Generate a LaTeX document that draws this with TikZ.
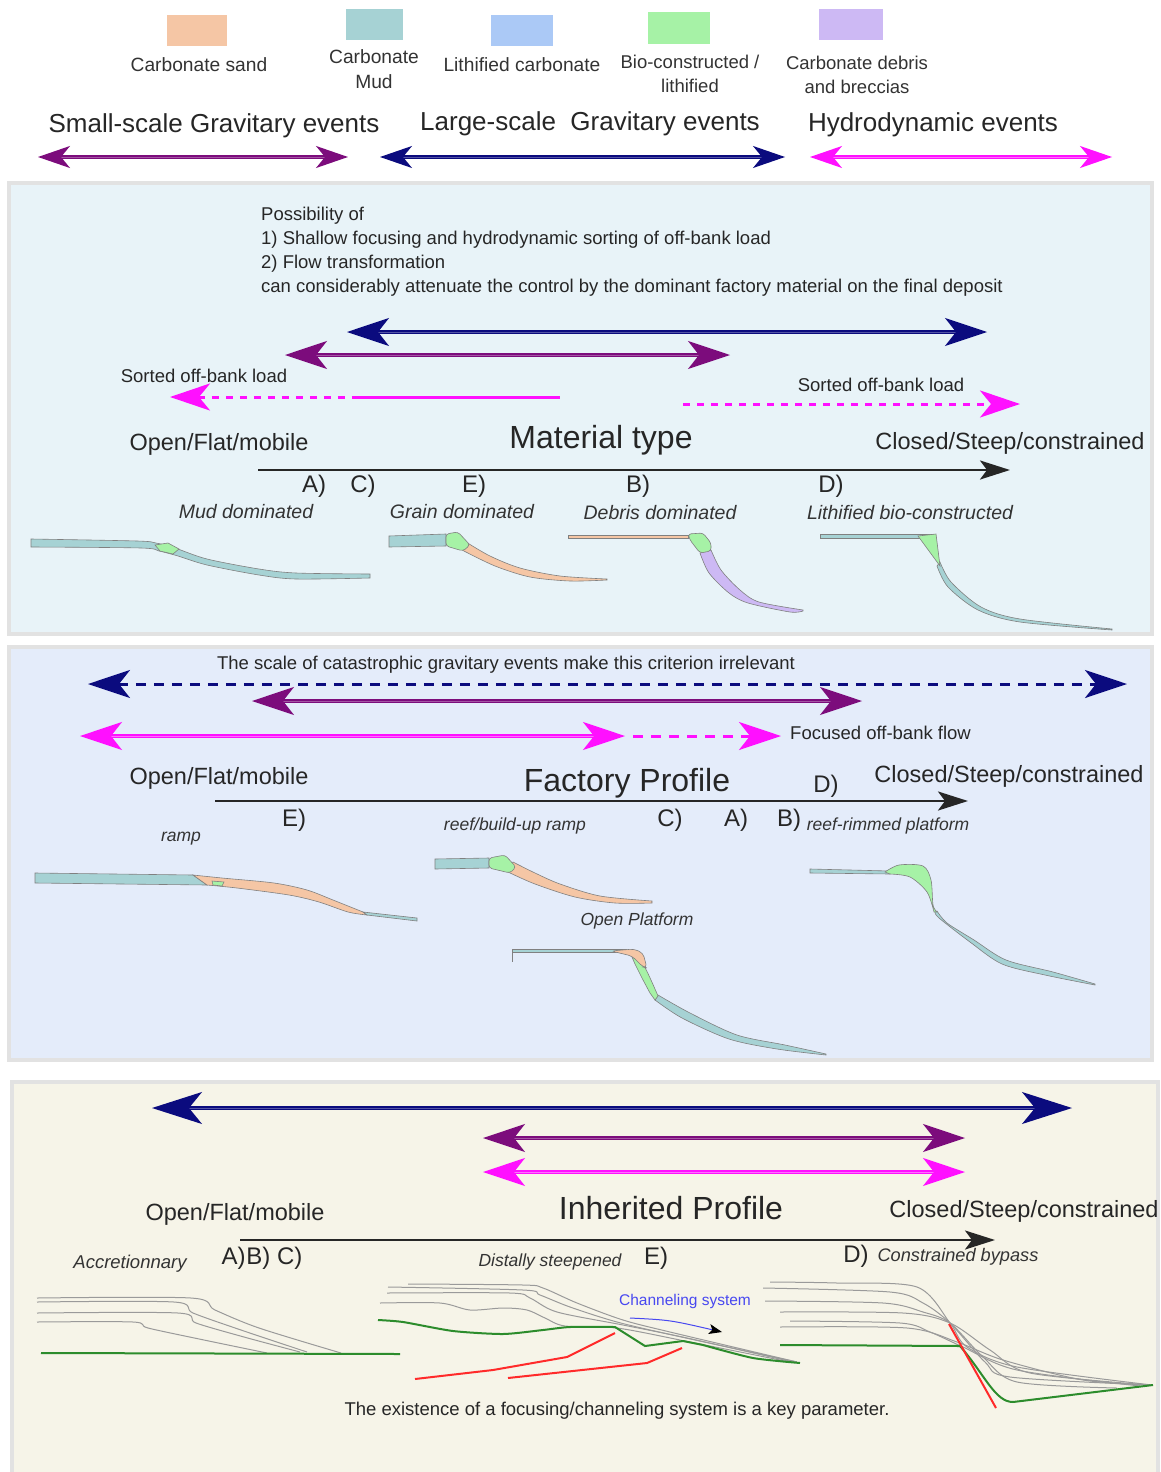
\documentclass[tikz,border=0pt]{standalone}
\usepackage{fontspec}
\setmainfont{Liberation Sans}
\usepackage{xcolor}
\usetikzlibrary{arrows.meta, positioning}

\definecolor{sandc}{HTML}{F5C6A5}
\definecolor{mudc}{HTML}{A6D2D4}
\definecolor{lithc}{HTML}{ABC9F6}
\definecolor{bioc}{HTML}{A6F2A6}
\definecolor{debrisc}{HTML}{CDB9F4}
\definecolor{navyc}{HTML}{0B0B7E}
\definecolor{purpc}{HTML}{7C0C7C}
\definecolor{magc}{HTML}{FF10FF}
\definecolor{bgone}{HTML}{E8F3F8}
\definecolor{bgtwo}{HTML}{E4ECFA}
\definecolor{bgthree}{HTML}{F6F4E8}
\definecolor{framec}{HTML}{E2E2E2}
\definecolor{layerc}{HTML}{9A9A9A}
\definecolor{greenl}{HTML}{2C8C2C}
\definecolor{redl}{HTML}{FF2A2A}
\definecolor{chanc}{HTML}{4848F0}

\tikzset{
  legtip/.tip={Stealth[length=32pt,width=22pt,inset=9pt]},
  bigtip/.tip={Stealth[length=42pt,width=28pt,inset=11pt]},
  axtip/.tip={Stealth[length=30pt,width=19pt,inset=7pt]},
}

\begin{document}
\begin{tikzpicture}[x=1pt,y=-1pt,
    panel/.style={draw=framec,line width=4pt},
    legbox/.style={minimum width=60pt,minimum height=31pt,inner sep=0pt},
    lbl/.style={inner sep=0pt,font=\fontsize{19.2}{25}\selectfont,align=center,text=black!80},
    small/.style={inner sep=0pt,font=\fontsize{18.5}{24}\selectfont,text=black!85},
    head/.style={inner sep=0pt,font=\fontsize{26}{30}\selectfont,text=black!85},
    big/.style={inner sep=0pt,font=\fontsize{32}{36}\selectfont,text=black!85},
    side/.style={inner sep=0pt,font=\fontsize{23.5}{28}\selectfont,text=black!85},
    casetag/.style={inner sep=0pt,font=\fontsize{24}{28}\selectfont,text=black!85},
    ital/.style={inner sep=0pt,font=\fontsize{17.5}{20}\selectfont\itshape,text=black!80},
    legrng/.style={line width=1.3pt,double distance=0.7pt,legtip-legtip},
    rng/.style={line width=1.4pt,double distance=0.8pt,bigtip-bigtip},
    axis/.style={line width=2.6pt,black!85,-axtip},
    mudfill/.style={fill=mudc,draw=gray,line width=0.6pt},
    sandfill/.style={fill=sandc,draw=gray,line width=0.6pt},
    biofill/.style={fill=bioc,draw=gray,line width=0.6pt},
    debrisfill/.style={fill=debrisc,draw=gray,line width=0.6pt},
    layer/.style={draw=layerc,line width=1pt},
    base/.style={draw=greenl,line width=2pt},
    fault/.style={draw=redl,line width=2pt},
  ]
  \useasboundingbox (0,0) rectangle (1160,1472);
  \fill[white] (0,0) rectangle (1160,1472);

  % legend
  \node[legbox,fill=sandc] (sandbox) at (197,31) {};
  \node[legbox,fill=mudc,minimum width=57pt] (mudbox) at (374,25) {};
  \node[legbox,fill=lithc,minimum width=62pt] (lithbox) at (522,31) {};
  \node[legbox,fill=bioc,minimum width=62pt,minimum height=32pt] (biobox) at (679,28) {};
  \node[legbox,fill=debrisc,minimum width=64pt] (debrisbox) at (851,25) {};
  \node[lbl] (sandlbl) at (199,65) {Carbonate sand};
  \node[lbl] (mudlbl) at (374,69) {Carbonate\\Mud};
  \node[lbl] (lithlbl) at (522,65) {Lithified carbonate};
  \node[lbl,font=\fontsize{18.5}{24}\selectfont] (biolbl) at (690,74) {Bio-constructed /\\lithified};
  \node[lbl,font=\fontsize{18.5}{24}\selectfont] (debrislbl) at (857,75) {Carbonate debris\\and breccias};

  \node[head] (smallhd) at (214,126) {Small-scale Gravitary events};
  \node[head] (largehd) at (590,124) {Large-scale~ Gravitary events};
  \node[head] (hydrohd) at (933,125) {Hydrodynamic events};
  \coordinate (sgl) at (38,157);  \coordinate (sgr) at (348,157);
  \coordinate (lgl) at (380,157); \coordinate (lgr) at (785,157);
  \coordinate (hdl) at (810,157); \coordinate (hdr) at (1112,157);
  \draw[legrng,draw=purpc,double=purpc!70!white] (sgl) -- (sgr);
  \draw[legrng,draw=navyc,double=navyc!70!white] (lgl) -- (lgr);
  \draw[legrng,draw=magc,double=magc!60!white] (hdl) -- (hdr);

  % material type
  \draw[panel,fill=bgone] (9,183) rectangle (1152,634);
  \node[small,anchor=west,align=left] (posstxt) at (261,252) {Possibility of\\1) Shallow focusing and hydrodynamic sorting of off-bank load\\2) Flow transformation\\can considerably attenuate the control by the dominant factory material on the final deposit};
  \coordinate (nal) at (347,332); \coordinate (nar) at (987,332);
  \coordinate (pal) at (285,355); \coordinate (par) at (730,355);
  \draw[rng,draw=navyc,double=navyc!70!white] (nal) -- (nar);
  \draw[rng,draw=purpc,double=purpc!70!white] (pal) -- (par);
  \node[small] (sortl) at (204,376) {Sorted off-bank load};
  \node[small] (sortr) at (881,385) {Sorted off-bank load};
  \coordinate (mal) at (170,397); \coordinate (mam) at (352,397); \coordinate (mar) at (560,397);
  \draw[magc,line width=3pt,dash pattern=on 7pt off 7pt,{Stealth[length=40pt,width=27pt,inset=11pt]}-] (mal) -- (mam);
  \draw[magc,line width=3pt] (mam) -- (mar);
  \coordinate (mbl) at (683,404); \coordinate (mbr) at (1020,404);
  \draw[magc,line width=3pt,dash pattern=on 7pt off 7pt,-{Stealth[length=40pt,width=27pt,inset=11pt]}] (mbl) -- (mbr);

  \node[side] (open1) at (219,444) {Open/Flat/mobile};
  \node[big] (mattype) at (601,440) {Material type};
  \node[side] (closed1) at (1010,443) {Closed/Steep/constrained};
  \coordinate (ax1l) at (258,470); \coordinate (ax1r) at (1010,470);
  \draw[axis] (ax1l) -- (ax1r);
  \node[casetag] (a1) at (314,486) {A)};
  \node[casetag] (c1) at (363,486) {C)};
  \node[casetag] (e1) at (474,486) {E)};
  \node[casetag] (b1) at (638,486) {B)};
  \node[casetag] (d1) at (831,486) {D)};
  \node[ital,font=\fontsize{19.5}{22}\selectfont\itshape] (mudtxt) at (246,512) {Mud dominated};
  \node[ital,font=\fontsize{19.5}{22}\selectfont\itshape] (graintxt) at (462,512) {Grain dominated};
  \node[ital,font=\fontsize{19.5}{22}\selectfont\itshape] (debristxt) at (660,513) {Debris dominated};
  \node[ital,font=\fontsize{19.5}{22}\selectfont\itshape] (lithtxt) at (910,513) {Lithified bio-constructed};

  \draw[mudfill] plot[smooth] coordinates {(31,539) (137,541) (156,543) (175,548) (207,559) (259,569) (296,573) (370,574)}
    -- plot[smooth] coordinates {(370,578) (296,579) (259,575) (207,565) (178,556) (159,551) (141,548) (31,547)} -- cycle;
  \draw[biofill] (155,545) -- (168,543) -- (179,549) -- (173,554) -- (160,551) -- cycle;
  \draw[mudfill] (389,536) -- (446,534) -- (446,546) -- (389,547) -- cycle;
  \draw[sandfill] plot[smooth] coordinates {(466,542) (490,556) (520,568) (560,576) (607,579)}
    -- plot[smooth] coordinates {(607,580) (570,581) (530,577) (495,566) (462,550)} -- cycle;
  \draw[biofill,rounded corners=3pt] (446,534) -- (458,532) -- (470,545) -- (463,551) -- (446,546) -- cycle;
  \draw[sandfill] (568,535) -- (688,535) -- (688,538) -- (568,538) -- cycle;
  \draw[debrisfill] plot[smooth] coordinates {(711,550) (721,570) (740,590) (759,602) (803,610)}
    -- plot[smooth] coordinates {(803,611) (790,612) (748,603) (729,593) (709,573) (700,553)} -- cycle;
  \draw[biofill,rounded corners=3pt] (688,534) -- (703,533) -- (711,543) -- (711,551) -- (700,553) -- (690,540) -- cycle;
  \draw[mudfill] (820,534) -- (934,534) -- (934,538) -- (820,538) -- cycle;
  \draw[mudfill] plot[smooth] coordinates {(940,562) (951,582) (981,607) (1020,619) (1112,629)}
    -- plot[smooth] coordinates {(1112,630) (1020,622) (978,610) (948,587) (937,566)} -- cycle;
  \draw[biofill] (918,536) -- (936,534) -- (940,566) -- cycle;

  % factory profile
  \draw[panel,fill=bgtwo] (9,647) rectangle (1152,1060);
  \node[small] (scaletxt) at (506,665) {The scale of catastrophic gravitary events make this criterion irrelevant};
  \coordinate (ncl) at (88,684); \coordinate (ncr) at (1127,684);
  \draw[navyc,line width=3pt,dash pattern=on 10pt off 8pt,bigtip-bigtip] (ncl) -- (ncr);
  \coordinate (pbl) at (252,701); \coordinate (pbr) at (862,701);
  \draw[rng,draw=purpc,double=purpc!70!white] (pbl) -- (pbr);
  \coordinate (mcl) at (80,736); \coordinate (mcm) at (625,736); \coordinate (mcn) at (633,736); \coordinate (mcr) at (781,736);
  \draw[rng,draw=magc,double=magc!60!white] (mcl) -- (mcm);
  \draw[magc,line width=3pt,dash pattern=on 10pt off 8pt,-bigtip] (mcn) -- (mcr);
  \node[small,anchor=west] (focustxt) at (790,733) {Focused off-bank flow};

  \node[side] (open2) at (219,778) {Open/Flat/mobile};
  \node[big] (factory) at (627,783) {Factory Profile};
  \node[side] (closed2) at (1009,776) {Closed/Steep/constrained};
  \node[casetag] (d2) at (826,786) {D)};
  \coordinate (ax2l) at (215,801); \coordinate (ax2r) at (968,801);
  \draw[axis] (ax2l) -- (ax2r);
  \node[casetag] (e2) at (294,820) {E)};
  \node[casetag] (c2) at (670,820) {C)};
  \node[casetag] (a2) at (736,820) {A)};
  \node[casetag] (b2) at (789,820) {B)};
  \node[ital] (reefbu) at (515,826) {reef/build-up ramp};
  \node[ital] (reefrim) at (888,826) {reef-rimmed platform};
  \node[ital] (ramptxt) at (181,839) {ramp};
  \node[ital] (openplat) at (637,921) {Open Platform};

  \draw[mudfill] (35,873) -- (193,875) -- (207,885) -- (35,883) -- cycle;
  \draw[sandfill] plot[smooth] coordinates {(193,875) (222,878) (274,883) (307,890) (333,900) (363,912)}
    -- plot[smooth] coordinates {(367,915) (348,912) (319,902) (289,895) (237,888) (207,885)} -- cycle;
  \draw[mudfill] (363,912) -- (417,918) -- (417,921) -- (367,915) -- cycle;
  \draw[biofill] (212,881) -- (224,882) -- (222,886) -- (213,885) -- cycle;
  \draw[mudfill] (435,859) -- (489,858) -- (489,868) -- (435,869) -- cycle;
  \draw[sandfill] plot[smooth] coordinates {(513,862) (535,873) (560,884) (600,896) (652,901)}
    -- plot[smooth] coordinates {(652,903) (615,903) (575,897) (535,884) (508,872)} -- cycle;
  \draw[biofill,rounded corners=3pt] (489,858) -- (505,855) -- (516,867) -- (510,873) -- (489,868) -- cycle;
  \draw[mudfill] (512,949) -- (626,949) -- (626,952) -- (512,952) -- cycle;
  \draw[gray] (512,949) -- (512,962);
  \draw[mudfill] plot[smooth] coordinates {(658,995) (690,1013) (737,1035) (785,1045) (826,1054)}
    -- plot[smooth] coordinates {(826,1055) (777,1049) (729,1039) (682,1018) (655,1000)} -- cycle;
  \draw[biofill] plot[smooth] coordinates {(632,957) (644,966) (658,996)} -- (655,1000) -- plot[smooth] coordinates {(650,993) (642,978) (635,964)} -- cycle;
  \draw[sandfill,rounded corners=4pt] (611,951) -- (634,949) -- (643,953) -- (647,968) -- (643,967) -- (632,956) -- cycle;
  \draw[mudfill] (810,869) -- (890,871) -- (890,874) -- (810,873) -- cycle;
  \draw[mudfill] plot[smooth] coordinates {(937,911) (947,923) (974,940) (1006,960) (1053,972) (1095,984)}
    -- plot[smooth] coordinates {(1095,985) (1045,975) (1002,964) (970,942) (939,918) (935,912)} -- cycle;
  \draw[biofill] plot[smooth] coordinates {(885,872) (899,865) (923,866) (931,880) (933,905) (937,912)}
    -- plot[smooth] coordinates {(934,912) (927,892) (910,877) (890,874)} -- cycle;

  % inherited profile
  \draw[panel,fill=bgthree] (12,1082) rectangle (1158,1480);
  \coordinate (ndl) at (152,1108); \coordinate (ndr) at (1072,1108);
  \coordinate (pdl) at (483,1138); \coordinate (pdr) at (965,1138);
  \coordinate (mdl) at (483,1172); \coordinate (mdr) at (965,1172);
  \draw[rng,draw=navyc,double=navyc!70!white,{Stealth[length=50pt,width=32pt,inset=13pt]}-{Stealth[length=50pt,width=32pt,inset=13pt]}] (ndl) -- (ndr);
  \draw[rng,draw=purpc,double=purpc!70!white] (pdl) -- (pdr);
  \draw[rng,draw=magc,double=magc!60!white] (mdl) -- (mdr);

  \node[side] (open3) at (235,1214) {Open/Flat/mobile};
  \node[big] (inherit) at (671,1208) {Inherited Profile};
  \node[side] (closed3) at (1024,1211) {Closed/Steep/constrained};
  \coordinate (ax3l) at (240,1240); \coordinate (ax3r) at (995,1240);
  \draw[axis] (ax3l) -- (ax3r);
  \node[ital,font=\fontsize{18.5}{20}\selectfont\itshape] (accr) at (130,1264) {Accretionnary};
  \node[casetag] (abc3) at (262,1258) {A)\kern1pt B) C)};
  \node[ital] (distal) at (550,1262) {Distally steepened};
  \node[casetag] (e3) at (656,1258) {E)};
  \node[casetag] (d3) at (856,1256) {D)};
  \node[ital,font=\fontsize{18.2}{20}\selectfont\itshape] (constr) at (958,1257) {Constrained bypass};

  \draw[layer] plot[smooth] coordinates {(37,1298) (191,1298) (215,1310) (259,1328) (341,1353)};
  \draw[layer] plot[smooth] coordinates {(37,1302) (174,1302) (193,1313) (241,1330) (307,1352)};
  \draw[layer] plot[smooth] coordinates {(37,1313) (178,1313) (196,1323) (244,1337) (300,1352)};
  \draw[layer] plot[smooth] coordinates {(37,1322) (133,1322) (148,1328) (204,1340) (267,1353)};
  \draw[base] (41,1353) -- (400,1354);

  \draw[layer] plot[smooth] coordinates {(408,1284) (523,1285) (543,1288) (577,1303) (623,1320) (670,1332) (797,1362)};
  \draw[layer] plot[smooth] coordinates {(388,1287) (523,1290) (540,1295) (570,1307) (617,1322) (677,1336) (797,1362)};
  \draw[layer] plot[smooth] coordinates {(387,1293) (510,1293) (530,1298) (557,1312) (623,1325) (687,1338) (793,1362)};
  \draw[layer] plot[smooth] coordinates {(380,1303) (440,1303) (470,1310) (503,1308) (527,1310) (545,1318) (565,1326) (617,1328) (690,1342) (790,1362)};
  \draw[base] plot[smooth,tension=0.4] coordinates {(378,1320) (403,1322) (453,1331) (503,1334) (543,1330) (570,1327) (615,1327)}
    -- (645,1346) -- (683,1341) -- plot[smooth,tension=0.4] coordinates {(703,1345) (753,1358) (800,1363)};
  \draw[fault] (415,1379) -- (493,1370) -- (567,1357) -- (615,1333);
  \draw[fault] (508,1378) -- (647,1363) -- (682,1348);
  \node[small,text=chanc,font=\fontsize{15.5}{18}\selectfont] (chantxt) at (685,1301) {Channeling system};
  \coordinate (chs) at (630,1318); \coordinate (che) at (722,1332);
  \draw[chanc,line width=1pt,-{Stealth[length=13pt,width=10pt,inset=3pt,color=black]}] (chs) .. controls (670,1320) .. (che);

  \draw[layer] plot[smooth] coordinates {(770,1282) (837,1283) (917,1287) (950,1323) (967,1347) (1017,1367) (1152,1385)};
  \draw[layer] plot[smooth] coordinates {(763,1288) (890,1292) (923,1303) (950,1323) (985,1362) (1010,1377) (1150,1385)};
  \draw[layer] plot[smooth] coordinates {(765,1301) (883,1303) (923,1312) (950,1323) (983,1357) (1017,1382) (1117,1388)};
  \draw[layer] plot[smooth] coordinates {(780,1312) (903,1313) (950,1323) (990,1350) (1030,1373) (1150,1385)};
  \draw[layer] plot[smooth] coordinates {(790,1321) (900,1323) (930,1332) (963,1347) (1017,1370) (1140,1386)};
  \draw[layer] plot[smooth] coordinates {(780,1327) (907,1328) (957,1342) (1003,1360) (1083,1380) (1152,1385)};
  \draw[base] (780,1345) -- (960,1346) .. controls (985,1375) and (995,1402) .. (1013,1402) -- (1153,1385);
  \draw[fault] (949,1324) -- (996,1408);

  \node[small] (existtxt) at (617,1411) {The existence of a focusing/channeling system is a key parameter.};
\end{tikzpicture}
\end{document}
